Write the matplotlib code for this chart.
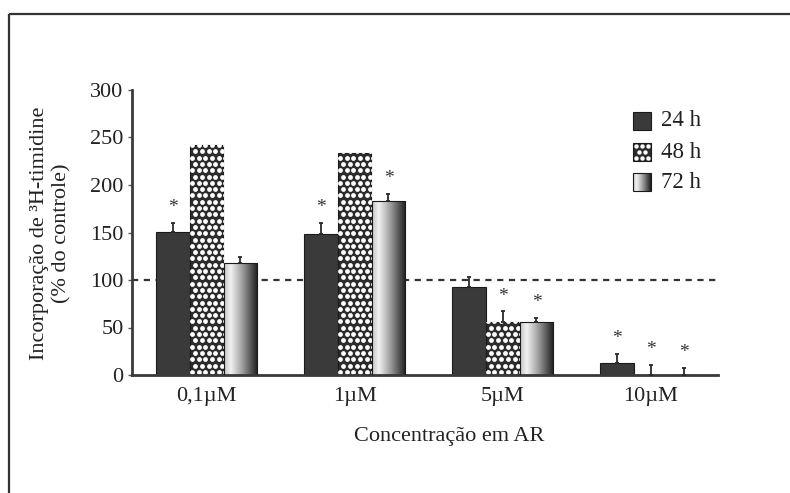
import numpy as np
import matplotlib
matplotlib.use("Agg")
import matplotlib.pyplot as plt
from matplotlib.patches import Rectangle
from matplotlib.colors import LinearSegmentedColormap

# ---- data ----
categories = ['0,1µM', '1µM', '5µM', '10µM']
series_labels = ['24 h', '48 h', '72 h']
v24 = [151, 148, 93, 13]
v48 = [242, 234, 56, 0.5]
v72 = [118, 183, 56, 0.5]
e24 = [9, 12, 10, 9]
e48 = [0, 0, 11, 10]
e72 = [6, 8, 4, 7]
sig24 = [True, True, False, True]
sig48 = [False, False, True, True]
sig72 = [False, True, True, True]
control_level = 100
yticks = [0, 50, 100, 150, 200, 250, 300]

FONT = ['Liberation Serif', 'DejaVu Serif']
plt.rcParams['font.family'] = FONT
FS = 16

W, H = 790, 493
fig = plt.figure(figsize=(W / 100, H / 100), dpi=100)
ax_l, ax_r, ax_t, ax_b = 132, 718, 90, 375
ax = fig.add_axes([ax_l / W, (H - ax_b) / H, (ax_r - ax_l) / W, (ax_b - ax_t) / H])

x = np.arange(len(categories))
bw = 0.224
off = 0.228
ax.set_xlim(-0.505, 3.455)
ax.set_ylim(0, 300)

dark = '#3a3a3a'
edge = '#1a1a1a'

b24 = ax.bar(x - off, v24, bw, color=dark, edgecolor=edge, linewidth=0.8, zorder=2)
b48 = ax.bar(x, v48, bw, color='#2c2c2c', edgecolor=edge, linewidth=0.8, zorder=2)
b72 = ax.bar(x + off, v72, bw, color='none', edgecolor=edge, linewidth=0.8, zorder=3)

grad_cmap = LinearSegmentedColormap.from_list(
    'g', [(0, '#c4c4c4'), (0.2, '#f2f2f2'), (0.55, '#9c9c9c'), (1, '#1c1c1c')])
grad = np.linspace(0, 1, 256).reshape(1, -1)


def dots_in(axis, rect, spacing_x=6.7, spacing_y=6.3, size=12):
    fig.canvas.draw()
    tr = axis.transData
    (px0, py0) = tr.transform((rect.get_x(), rect.get_y()))
    (px1, py1) = tr.transform((rect.get_x() + rect.get_width(), rect.get_y() + rect.get_height()))
    pts = []
    row = 0
    yy = py0 + spacing_y / 2
    while yy < py1 + spacing_y:
        shift = (spacing_x / 2) if row % 2 else 0
        xx = px0 + spacing_x / 4 + shift
        while xx < px1 + spacing_x:
            pts.append((xx, yy))
            xx += spacing_x
        yy += spacing_y
        row += 1
    if not pts:
        return
    d = tr.inverted().transform(np.array(pts))
    sc = axis.scatter(d[:, 0], d[:, 1], s=size, color='white', linewidths=0, zorder=2.5)
    sc.set_clip_path(rect)


for r in b48:
    if r.get_height() > 2:
        dots_in(ax, r)

for r in b72:
    if r.get_height() > 2:
        im = ax.imshow(grad, extent=[r.get_x(), r.get_x() + r.get_width(), 0, r.get_height()],
                       aspect='auto', cmap=grad_cmap, zorder=2.2, interpolation='bilinear')
        im.set_clip_path(r)
ax.set_xlim(-0.505, 3.455)
ax.set_ylim(0, 300)

# error bars (upward only) and significance stars
for xs, vals, errs, sigs in [(x - off, v24, e24, sig24), (x, v48, e48, sig48), (x + off, v72, e72, sig72)]:
    for xi, v, e, s in zip(xs, vals, errs, sigs):
        if e > 0:
            ax.errorbar(xi, v, yerr=[[0], [e]], fmt='none', ecolor='#2a2a2a',
                        elinewidth=1.3, capsize=1.6, capthick=1.3, zorder=4)
        if s:
            ax.text(xi, v + e + 16, '*', ha='center', va='center', fontsize=14,
                    color='#333333', zorder=5)

ax.axhline(control_level, color='#333333', linestyle=(0, (2.8, 2.5)), linewidth=1.6, zorder=1)

for sp in ['top', 'right']:
    ax.spines[sp].set_visible(False)
ax.spines['left'].set_color('#3a3a3a')
ax.spines['left'].set_linewidth(2)
ax.spines['bottom'].set_color('#3a3a3a')
ax.spines['bottom'].set_linewidth(2)

ax.set_yticks(yticks)
ax.set_yticklabels([str(t) for t in yticks], fontsize=FS, color='#222222')
ax.tick_params(axis='y', direction='out', length=3, width=1, color='#555555', pad=3)
ax.set_xticks(x)
ax.set_xticklabels(categories, fontsize=FS, color='#222222')
ax.tick_params(axis='x', length=0, pad=9)

fig.text(449 / W, 1 - 437 / H, 'Concentração em AR', ha='center', va='center',
         fontsize=FS, color='#222222')
fig.text(40 / W, 1 - 233 / H, 'Incorporação de ³H-timidine', rotation=90,
         ha='center', va='center', fontsize=FS, color='#222222')
fig.text(62 / W, 1 - 233 / H, '(% do controle)', rotation=90,
         ha='center', va='center', fontsize=FS, color='#222222')

# overlay in pixel coordinates for legend and frame
ov = fig.add_axes([0, 0, 1, 1])
ov.set_xlim(0, W)
ov.set_ylim(H, 0)
ov.axis('off')
ov.patch.set_alpha(0)

ov.plot([9, 9], [14, H], color='#333333', linewidth=1.6, solid_capstyle='butt')
ov.plot([9, W], [14, 14], color='#333333', linewidth=1.6, solid_capstyle='butt')

leg_x, leg_size = 633, 18
leg_ys = [121, 152, 182]
for i, (lab, ly) in enumerate(zip(series_labels, leg_ys)):
    r = Rectangle((leg_x, ly - leg_size / 2), leg_size, leg_size,
                  facecolor=[dark, '#2c2c2c', 'none'][i], edgecolor=edge, linewidth=0.8, zorder=3)
    ov.add_patch(r)
    if i == 1:
        pts = []
        for rr, yy in enumerate(np.arange(ly - leg_size / 2 + 3, ly + leg_size / 2, 6.0)):
            for xx in np.arange(leg_x + 3 + (3 if rr % 2 else 0), leg_x + leg_size, 6.0):
                pts.append((xx, yy))
        pts = np.array(pts)
        sc = ov.scatter(pts[:, 0], pts[:, 1], s=10, color='white', linewidths=0, zorder=3.5)
        sc.set_clip_path(r)
    if i == 2:
        im = ov.imshow(grad, extent=[leg_x, leg_x + leg_size, ly + leg_size / 2, ly - leg_size / 2],
                       aspect='auto', cmap=grad_cmap, zorder=2.5, interpolation='bilinear')
        im.set_clip_path(r)
    ov.text(leg_x + 28, ly, lab, ha='left', va='center', fontsize=FS + 0.5, color='#222222')
ov.set_xlim(0, W)
ov.set_ylim(H, 0)

fig.savefig('out.png', dpi=100)
